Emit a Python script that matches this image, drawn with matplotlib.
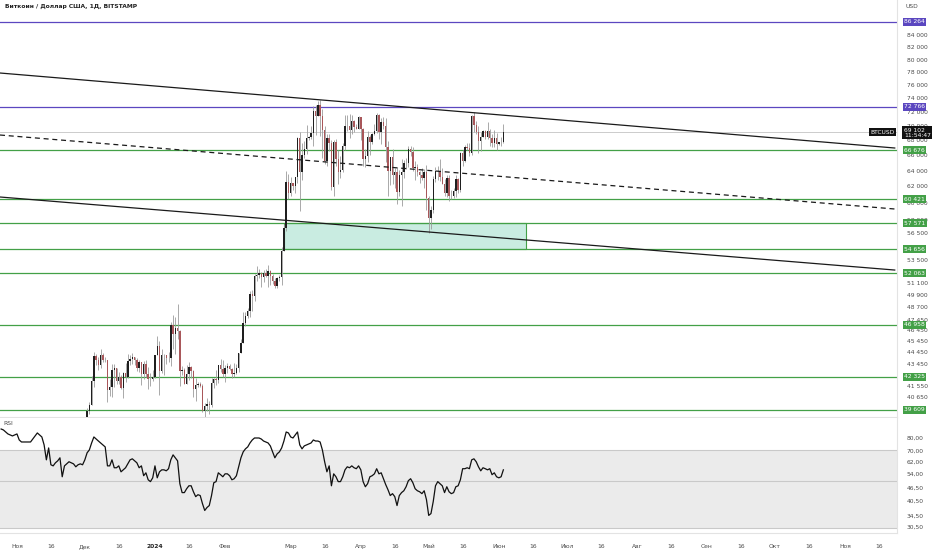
import numpy as np
import pandas as pd
import matplotlib
matplotlib.use("Agg")
import matplotlib.pyplot as plt
import matplotlib.dates as mdates
import matplotlib.transforms as mtrans
from matplotlib.patches import Rectangle
from matplotlib.ticker import NullLocator

# daily candles, BTCUSD (Bitstamp), from 2023-12-01
candle_start = "2023-12-01"
opens = [37720, 38690, 39460, 39970, 41980, 44080, 43770, 43290, 44170, 43720, 43790, 41240, 41480, 42880, 43020, 41940,
         42270, 41370, 42660, 42260, 43660, 43860, 43990, 43740, 43020, 43580, 42520, 43440, 42580, 42080, 42140,
         42280, 44180, 44960, 42840, 44180, 44160, 43970, 43930, 46970, 46120, 46650, 46340, 42780, 42850, 41730, 42510,
         43140, 42760, 41270, 41620, 41670, 41570, 39530, 39900, 40090, 39950, 41820, 42120, 42040, 43300, 42950,
         42580, 43080, 43190, 42990, 42580, 42660, 43090, 44340, 45290, 47130, 47760, 48290, 49960, 49740, 51820, 51940,
         52140, 51660, 52120, 51770, 52280, 51840, 51300, 50750, 51570, 51730, 54490, 57050, 62500,
         61180, 62440, 62030, 63150, 68280, 63780, 66080, 66850, 68300, 68500, 69020, 72100, 71450, 73070, 71390, 69450,
         65310, 68390, 67600, 61930, 67850, 65500, 63780, 64090, 67230, 69960, 69990, 69450, 70760, 69900, 69650,
         71300, 69650, 65480, 65960, 68500, 67840, 68900, 69360, 71630, 69140, 70600, 70010, 67160, 63920, 65730, 63440,
         63800, 61270, 63470, 63820, 64940, 64950, 66840, 66410, 64290, 64480, 63770, 63460, 63120, 63840,
         60620, 58250, 59120, 62890, 63890, 64010, 63160, 62330, 61190, 63070, 60790, 60800, 61460, 62930, 61560, 66250,
         65230, 67050, 66920, 66270, 71450, 70150, 69170, 67930, 68530, 69290, 68510, 69370, 68340, 67600, 68370,
         67500, 67760, 67810]
highs = [38960, 39700, 40200, 42400, 44450, 44300, 44040, 44700, 44360, 44040, 43800, 42080, 43430, 43420, 43090, 42700,
         42430, 42750, 43480, 44250, 44230, 44400, 44020, 43950, 43800, 43610, 43680, 43790, 43130, 42600, 42900,
         44200, 45900, 45500, 44760, 44300, 44210, 44480, 47250, 47900, 47700, 48970, 46500, 43250, 43080, 43350, 43560,
         43200, 42930, 42200, 41850, 41900, 41670, 40120, 40550, 40300, 42200, 42220, 42850, 43320, 43880, 43750,
         43280, 43480, 43380, 43100, 43500, 43400, 44400, 45600, 48200, 48170, 48580, 50300, 50380, 52000, 52820, 52570,
         52200, 52380, 52500, 52980, 52380, 52000, 51550, 51700, 51950, 54900, 57550, 64000, 63600,
         63200, 62450, 63230, 68500, 69200, 67600, 67950, 70100, 68650, 69950, 72850, 72950, 73650, 73780, 72400, 70000,
         68900, 68950, 68100, 68100, 68200, 66650, 65950, 67600, 71500, 71550, 71750, 71500, 70900, 70300, 71350,
         71300, 69700, 66900, 69300, 68700, 69000, 70300, 71800, 71750, 71150, 71250, 71200, 67900, 65800, 66900, 64400,
         64500, 64100, 65500, 65400, 65700, 67200, 67200, 67100, 65300, 64800, 63900, 64350, 64200, 64750,
         60800, 59600, 63300, 64500, 64600, 65500, 64400, 62950, 63450, 63450, 61500, 61850, 63450, 63100, 66450, 66700,
         67400, 67700, 67700, 71500, 71950, 70650, 70050, 69200, 69500, 69500, 70600, 69550, 68900, 69500, 69000,
         67850, 68450, 70250]
lows = [37620, 38650, 39300, 39970, 41420, 43350, 42850, 43080, 43600, 43580, 40200, 40680, 40660, 41480, 41680, 41700,
        41250, 40550, 41850, 42200, 43280, 43420, 43310, 42800, 42750, 41650, 42100, 42320, 41300, 41530, 41970,
        42180, 44180, 40800, 42650, 42500, 43440, 43600, 43200, 44700, 44300, 45650, 41500, 42450, 41720, 41700, 42050,
        42200, 40650, 40300, 41450, 41450, 39430, 38550, 39500, 39300, 39820, 41400, 41630, 41800, 42700, 42300,
        41880, 42600, 42900, 42240, 42270, 42580, 42700, 44340, 45260, 46850, 47600, 47700, 48300, 49300, 51300, 51630,
        50650, 51200, 51700, 50700, 50850, 50970, 50550, 50600, 51300, 50900, 54450, 56700, 60400,
        60800, 61600, 61150, 62400, 59000, 62800, 65600, 66200, 68000, 68200, 67200, 68800, 71350, 68600, 65600, 64800,
        64600, 66600, 61600, 60800, 64600, 62300, 63000, 63800, 66650, 69300, 68400, 68900, 69100, 69550, 69600,
        68100, 64550, 64500, 65100, 66000, 67500, 68750, 69060, 68200, 67500, 69550, 65100, 60800, 62200, 62300, 61800,
        59800, 60850, 59600, 63100, 64250, 64500, 65850, 63900, 62800, 63300, 62400, 62800, 61800, 59100,
        56500, 56950, 58800, 62600, 62800, 62700, 62300, 60850, 60650, 60200, 60500, 60600, 60750, 61150, 61330, 64600,
        65100, 66650, 65850, 66100, 69200, 68850, 66300, 66600, 68500, 68200, 68250, 67250, 67150, 67150, 66700,
        67400, 67300, 67650]
closes = [38690, 39460, 39970, 41980, 44080, 43770, 43290, 44170, 43720, 43790, 41240, 41480, 42880, 43020, 41940, 42270,
          41370, 42660, 42260, 43660, 43860, 43990, 43740, 43020, 43580, 42520, 43440, 42580, 42080, 42140, 42280,
          44180, 44960, 42840, 44180, 44160, 43970, 43930, 46970, 46120, 46650, 46340, 42780, 42850, 41730, 42510, 43140,
          42760, 41270, 41620, 41670, 41570, 39530, 39900, 40090, 39950, 41820, 42120, 42040, 43300, 42950, 42580,
          43080, 43190, 42990, 42580, 42660, 43090, 44340, 45290, 47130, 47760, 48290, 49960, 49740, 51820, 51940, 52140,
          51660, 52120, 51770, 52280, 51840, 51300, 50750, 51570, 51730, 54490, 57050, 62500, 61180,
          62440, 62030, 63150, 68280, 63780, 66080, 66850, 68300, 68500, 69020, 72100, 71450, 73070, 71390, 69450, 65310,
          68390, 67600, 61930, 67850, 65500, 63780, 64090, 67230, 69960, 69990, 69450, 70760, 69900, 69650, 71300,
          69650, 65480, 65960, 68500, 67840, 68900, 69360, 71630, 69140, 70600, 70010, 67160, 63920, 65730, 63440, 63800,
          61270, 63470, 63820, 64940, 64950, 66840, 66410, 64290, 64480, 63770, 63460, 63120, 63840, 60620,
          58250, 59120, 62890, 63890, 64010, 63160, 62330, 61190, 63070, 60790, 60800, 61460, 62930, 61560, 66250, 65230,
          67050, 66920, 66270, 71450, 70150, 69170, 67930, 68530, 69290, 68510, 69370, 68340, 67600, 68370, 67500,
          67760, 67810, 69102]

# RSI(14), daily, from 2023-10-25
rsi_start = "2023-10-25"
rsi = [88.2, 87.3, 85.4, 83.6, 82.7, 81.8, 82.7, 83.6, 78.3, 76.6, 76.6, 76.6, 76.6, 76.6, 79.1, 81.8,
       84.5, 82.7, 80.9, 74.2, 63.1, 71.8, 59.8, 59.1, 61.1, 62.4, 64.5, 52.5, 59.1, 60.4, 61.8, 61.1,
       60.4, 58.5, 59.8, 60.4, 59.8, 63.1, 68.1, 70.3, 75.8, 80.9, 79.1, 77.4, 75.8, 74.2, 72.6, 59.1,
       59.1, 63.1, 57.9, 57.9, 59.1, 55.4, 56.6, 57.9, 60.4, 63.1, 63.8, 62.4, 61.1, 57.9, 59.1, 53.1,
       54.8, 50.8, 49.8, 51.9, 59.1, 51.9, 55.4, 56.6, 56.6, 56.0, 57.3, 63.1, 66.6, 64.5, 62.4, 48.7,
       44.2, 44.2, 46.1, 47.6, 47.6, 44.6, 42.3, 43.2, 42.8, 39.2, 36.4, 37.6, 38.4, 42.8, 49.2, 49.8,
       54.8, 53.7, 52.5, 54.2, 54.2, 53.1, 50.8, 51.4, 53.1, 58.5, 64.5, 68.8, 71.1, 72.6, 75.8, 78.3,
       80.0, 80.0, 80.0, 79.1, 77.4, 76.6, 75.8, 73.4, 68.8, 64.5, 67.3, 68.8, 71.8, 77.4, 85.4, 84.5,
       80.9, 80.0, 82.7, 85.4, 74.2, 71.1, 73.4, 74.2, 75.0, 75.8, 78.3, 77.4, 77.4, 76.6, 70.3, 61.8,
       55.4, 59.1, 47.6, 54.2, 52.5, 49.8, 49.8, 52.5, 56.6, 58.5, 57.9, 59.1, 57.9, 57.3, 59.1, 56.6,
       49.8, 47.1, 48.7, 52.5, 53.1, 54.2, 57.3, 54.2, 54.8, 51.4, 48.2, 45.6, 42.8, 43.7, 42.3, 38.4,
       42.8, 44.2, 45.1, 47.1, 50.3, 51.4, 49.2, 46.1, 45.1, 44.6, 43.7, 45.1, 41.0, 34.5, 35.2, 40.1,
       47.6, 49.8, 48.7, 47.6, 44.2, 47.1, 44.6, 43.7, 44.2, 47.1, 47.6, 50.8, 57.3, 57.3, 57.9, 57.3,
       63.1, 63.8, 61.8, 58.5, 56.0, 57.9, 57.3, 56.6, 57.3, 53.7, 54.8, 52.5, 51.9, 52.5, 56.6]

green_levels = [66676, 60421, 57571, 54656, 52063, 46958, 42325, 39609]
purple_levels = [86264, 72766]
last_price = 69102

zone_dates = ["2024-02-27", "2024-06-13"]
zone_prices = [54656, 57571]

line_dates = ["2023-10-24 12:00", "2024-11-23 00:00"]
upper_line = [77860, 66975]
mid_line = [68746, 59255]
lower_line = [60700, 52420]

price_ticks = [84000, 82000, 80000, 78000, 76000, 74000, 72000, 70000, 68000, 66000, 64000, 62000, 60000,
               58000, 56500, 53500, 51100, 49900, 48700, 47450, 46450, 45450, 44450, 43450, 41550, 40650]
rsi_ticks = [80, 70, 62, 54, 46.5, 40.5, 34.5, 30.5]

xtick_dates = ["2023-11-01", "2023-11-16", "2023-12-01", "2023-12-16", "2024-01-01", "2024-01-16", "2024-02-01",
               "2024-03-01", "2024-03-16", "2024-04-01", "2024-04-16", "2024-05-01", "2024-05-16", "2024-06-01",
               "2024-06-16", "2024-07-01", "2024-07-16", "2024-08-01", "2024-08-16", "2024-09-01", "2024-09-16",
               "2024-10-01", "2024-10-16", "2024-11-01", "2024-11-16"]
xtick_labels = ["Ноя", "16", "Дек", "16", "2024", "16", "Фев", "Мар", "16", "Апр", "16", "Май", "16", "Июн",
                "16", "Июл", "16", "Авг", "16", "Сен", "16", "Окт", "16", "Ноя", "16"]

GREEN = "#43a047"
PURPLE = "#5b47c0"
UP = "#1f1f1f"
DOWN = "#a9575a"
WICK = "#9b9b9b"
TXT = "#4a4a4a"
FS = 4.3

plt.rcParams['font.family'] = ['DejaVu Sans']

fig = plt.figure(figsize=(9.32, 5.5), dpi=100)
ax = fig.add_axes([0, 1 - 417 / 550, 897 / 932, 417 / 550])
axr = fig.add_axes([0, 1 - 533 / 550, 897 / 932, 115 / 550], sharex=ax)

d = mdates.date2num(pd.date_range(candle_start, periods=len(closes), freq="D"))
o = np.array(opens, float)
h = np.array(highs, float)
l = np.array(lows, float)
c = np.array(closes, float)
up = c >= o
cols = np.where(up, UP, DOWN)

ax.set_yscale("log")
ax.vlines(d, l, h, color=WICK, lw=0.6, zorder=3)
ax.bar(d, np.maximum(np.abs(c - o), 30), bottom=np.minimum(o, c), width=0.62, color=cols, zorder=4, linewidth=0)

xl = mdates.date2num(pd.Timestamp("2023-11-01")) + np.array([-7.5, 389.0])
ax.set_xlim(xl)
ax.set_ylim(39025, 90153)

# levels
for p in green_levels:
    ax.axhline(p, color=GREEN, lw=0.9, zorder=2)
for p in purple_levels:
    ax.axhline(p, color=PURPLE, lw=0.9, zorder=2)
ax.axhline(last_price, color="#c4c4c4", lw=0.6, zorder=1)

zx = mdates.date2num(pd.to_datetime(zone_dates))
ax.add_patch(Rectangle((zx[0], zone_prices[0]), zx[1] - zx[0], zone_prices[1] - zone_prices[0],
                       facecolor="#c9ece1", edgecolor=GREEN, lw=0.8, zorder=1.5))

lx = mdates.date2num(pd.to_datetime(line_dates, format="%Y-%m-%d %H:%M"))
ax.plot(lx, upper_line, color="#1a1a1a", lw=0.9, zorder=5)
ax.plot(lx, lower_line, color="#1a1a1a", lw=0.9, zorder=5)
ax.plot(lx, mid_line, color="#1a1a1a", lw=0.9, ls=(0, (4, 3)), zorder=5)

# price axis
ax.yaxis.tick_right()
ax.yaxis.set_minor_locator(NullLocator())
ax.set_yticks(price_ticks)
ax.set_yticklabels([f"{v:,}".replace(",", " ") for v in price_ticks])
ax.tick_params(axis="y", length=0, pad=7, labelsize=FS, labelcolor=TXT)
ax.tick_params(axis="x", length=0, labelbottom=False)
for s in ["top", "left"]:
    ax.spines[s].set_visible(False)
ax.spines["right"].set_color("#e3e3e3")
ax.spines["bottom"].set_color("#e3e3e3")

trans = mtrans.blended_transform_factory(ax.transAxes, ax.transData)
for p, col in [(v, GREEN) for v in green_levels] + [(v, PURPLE) for v in purple_levels]:
    ax.text(1.0 + 7 / 897, p, f"{p:,}".replace(",", " "), transform=trans, ha="left", va="center",
            fontsize=FS, color="white", clip_on=False, zorder=10,
            bbox=dict(boxstyle="square,pad=0.25", fc=col, ec="none"))

ax.annotate(f"{last_price:,}".replace(",", " ") + "\n11:54:47", xy=(1.0, last_price), xycoords=trans,
            xytext=(5, 3.5), textcoords="offset points", ha="left", va="top", fontsize=FS, color="white",
            linespacing=1.1, annotation_clip=False, zorder=11,
            bbox=dict(boxstyle="square,pad=0.25", fc="#111111", ec="none"))
ax.annotate("BTCUSD", xy=(1.0, last_price), xycoords=trans, xytext=(-1.5, 0), textcoords="offset points",
            ha="right", va="center", fontsize=FS, color="white", annotation_clip=False, zorder=11,
            bbox=dict(boxstyle="square,pad=0.25", fc="#111111", ec="none"))

fig.text(5 / 932, 1 - 6 / 550, "Биткоин / Доллар США, 1Д, BITSTAMP", fontsize=FS, color="#222222",
         fontweight="bold", ha="left", va="center")
fig.text(912 / 932, 1 - 6 / 550, "USD", fontsize=FS, color=TXT, ha="center", va="center")

# RSI pane
rd = mdates.date2num(pd.date_range(rsi_start, periods=len(rsi), freq="D"))
axr.set_yscale("log")
axr.axhspan(30, 70, color="#ebebeb", zorder=0, lw=0)
for lv in (70, 50, 30):
    axr.axhline(lv, color="#c9c9c9", lw=0.8, zorder=1)
axr.plot(rd, rsi, color="#111111", lw=0.9, zorder=3)
axr.set_ylim(28.5, 99.4)
axr.yaxis.tick_right()
axr.yaxis.set_minor_locator(NullLocator())
axr.set_yticks(rsi_ticks)
axr.set_yticklabels([f"{v:.2f}".replace(".", ",") for v in rsi_ticks])
axr.tick_params(axis="y", length=0, pad=7, labelsize=FS, labelcolor=TXT)
for s in ["top", "left"]:
    axr.spines[s].set_visible(False)
axr.spines["right"].set_color("#e3e3e3")
axr.spines["bottom"].set_color("#e3e3e3")
axr.text(3 / 897, 0.97, "RSI", transform=axr.transAxes, fontsize=FS, color=TXT, ha="left", va="top")

xt = mdates.date2num(pd.to_datetime(xtick_dates))
axr.set_xticks(xt)
axr.set_xticklabels(xtick_labels)
axr.xaxis.set_minor_locator(NullLocator())
axr.tick_params(axis="x", length=0, pad=8, labelsize=FS, labelcolor=TXT)
for lab in axr.get_xticklabels():
    if lab.get_text() == "2024":
        lab.set_fontweight("bold")
        lab.set_color("#222222")
axr.set_xlim(xl)

fig.savefig("out.png", dpi=100, facecolor="white")
